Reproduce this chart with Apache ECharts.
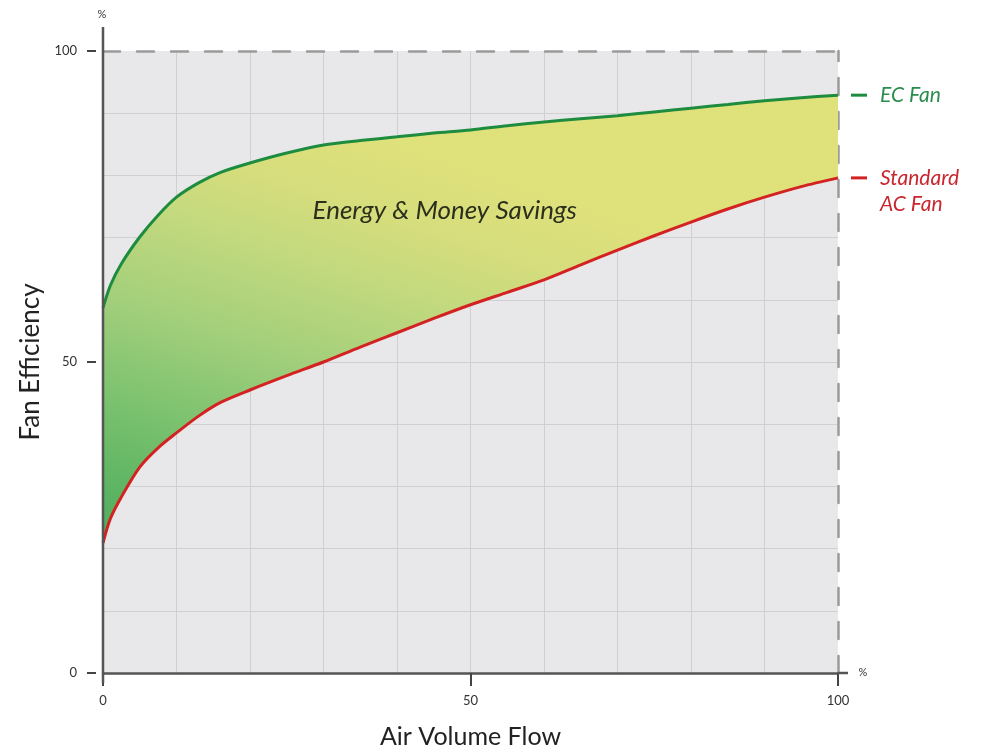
<!DOCTYPE html>
<html>
<head>
<meta charset="utf-8">
<script src="https://cdn.jsdelivr.net/npm/echarts@6/dist/echarts.min.js"></script>
<style>
  html, body { margin: 0; padding: 0; background: #fff; }
  #chart { width: 982px; height: 753px; }
</style>
</head>
<body>
<div id="chart"></div>
<script>
// air volume flow (%) sample points
const flow = [0, 1, 2.5, 5, 7.5, 10, 13, 16, 20, 25, 30, 35, 40, 45, 50, 55, 60, 65, 70, 75, 80, 85, 90, 95, 100];
// fan efficiency (%)
const ecFan = [58.7, 62.3, 65.8, 70.1, 73.6, 76.5, 78.8, 80.5, 82, 83.6, 84.9, 85.6, 86.2, 86.8, 87.3, 88, 88.6, 89.1, 89.6, 90.2, 90.8, 91.4, 92, 92.5, 92.9];
const acFan = [20.9, 24.8, 28.3, 33.1, 36.2, 38.6, 41.3, 43.5, 45.5, 47.8, 50, 52.4, 54.7, 57, 59.2, 61.2, 63.2, 65.6, 68, 70.3, 72.5, 74.6, 76.5, 78.2, 79.6];
const savingsLabel = 'Energy & Money Savings';
const savingsPos = [46.5, 74.3];

const FONT = 'Lato, "DejaVu Sans", sans-serif';
const GREEN = '#1e8c3e';
const RED = '#d42222';
const AXIS = '#555';

const chart = echarts.init(document.getElementById('chart'));

// rows are [efficiency, flow] so the stack runs on the efficiency value
const acRows = flow.map((x, i) => [acFan[i], x]);
const ecRows = flow.map((x, i) => [ecFan[i], x]);
const gapRows = flow.map((x, i) => [+(ecFan[i] - acFan[i]).toFixed(2), x]);
const enc = { x: 1, y: 0 };

const option = {
  animation: false,
  textStyle: { fontFamily: FONT },
  grid: {
    left: 103, right: 144, top: 51, bottom: 80,
    outerBoundsMode: 'none',
    show: true, backgroundColor: '#e8e8ea', borderWidth: 0
  },
  xAxis: [
    {
      type: 'value', min: 0, max: 100, interval: 50,
      name: 'Air Volume Flow', nameLocation: 'middle', nameGap: 51,
      nameTextStyle: { fontSize: 25, color: '#222', fontFamily: FONT },
      axisLine: { show: true, onZero: false, lineStyle: { color: AXIS, width: 2.5 } },
      axisTick: { show: true, length: 13, lineStyle: { color: '#444', width: 2 } },
      axisLabel: { margin: 21, fontSize: 13, color: '#333', fontFamily: FONT },
      splitLine: { show: true, showMinLine: false, showMaxLine: false, lineStyle: { color: '#d0d0d3', width: 1 } },
      minorTick: { show: false, splitNumber: 5 },
      minorSplitLine: { show: true, lineStyle: { color: '#d0d0d3', width: 1 } }
    },
    {
      type: 'value', min: 0, max: 100, position: 'top',
      axisLine: { show: true, onZero: false, lineStyle: { color: '#9a9a9a', width: 2.5, type: [17, 17] } },
      axisTick: { show: false }, axisLabel: { show: false }, splitLine: { show: false }
    }
  ],
  yAxis: [
    {
      type: 'value', min: 0, max: 100, interval: 50, offset: 7,
      name: 'Fan Efficiency', nameLocation: 'middle', nameGap: 48,
      nameTextStyle: { fontSize: 26, color: '#222', fontFamily: FONT },
      axisLine: { show: false, onZero: false },
      axisTick: { show: true, length: 9, lineStyle: { color: '#444', width: 2 } },
      axisLabel: { margin: 19, fontSize: 13, color: '#333', fontFamily: FONT },
      splitLine: { show: true, showMinLine: false, showMaxLine: false, lineStyle: { color: '#d0d0d3', width: 1 } },
      minorTick: { show: false, splitNumber: 5 },
      minorSplitLine: { show: true, lineStyle: { color: '#d0d0d3', width: 1 } }
    },
    {
      type: 'value', min: 0, max: 100, position: 'right',
      axisLine: { show: true, onZero: false, lineStyle: { color: '#9a9a9a', width: 2.5, type: [17, 17] } },
      axisTick: { show: false }, axisLabel: { show: false }, splitLine: { show: false }
    }
  ],
  series: [
    {
      name: 'Standard AC Fan', type: 'line', stack: 'band', smooth: 0.3,
      data: acRows, encode: enc, showSymbol: false, z: 4,
      lineStyle: { color: RED, width: 3 },
      endLabel: {
        show: true, distance: 13, offset: [0, 13],
        formatter: '{d| }{s| }{t|Standard}\n{w| }{t|AC Fan}',
        rich: {
          d: { width: 16, height: 3, backgroundColor: RED },
          s: { width: 13 },
          w: { width: 29 },
          t: { fontSize: 21, color: '#c9262f', fontStyle: 'italic', fontFamily: FONT, lineHeight: 26 }
        }
      }
    },
    {
      name: 'Savings', type: 'line', stack: 'band', smooth: 0.3,
      data: gapRows, encode: enc, showSymbol: false, z: 2,
      lineStyle: { width: 0, opacity: 0 },
      areaStyle: {
        opacity: 1,
        color: new echarts.graphic.LinearGradient(0.2, 0, 0, 1, [
          { offset: 0, color: '#dfe17b' },
          { offset: 0.15, color: '#d6dd7c' },
          { offset: 0.3, color: '#c2d97e' },
          { offset: 0.5, color: '#a3cf7b' },
          { offset: 0.7, color: '#7cc26f' },
          { offset: 0.85, color: '#62b765' },
          { offset: 1, color: '#4dac5c' }
        ])
      }
    },
    {
      name: 'EC Fan', type: 'line', smooth: 0.3,
      data: ecRows, encode: enc, showSymbol: false, z: 5,
      lineStyle: { color: GREEN, width: 3 },
      endLabel: {
        show: true, distance: 13,
        formatter: '{d| }{s| }{t|EC Fan}',
        rich: {
          d: { width: 16, height: 3, backgroundColor: GREEN },
          s: { width: 13 },
          t: { fontSize: 21, color: '#2c8c4c', fontStyle: 'italic', fontFamily: FONT }
        }
      },
      markPoint: {
        symbol: 'circle', symbolSize: 0,
        data: [{ coord: savingsPos }],
        label: {
          show: true, formatter: savingsLabel, position: 'inside',
          fontSize: 26, fontStyle: 'italic', color: '#2b2f1c', fontFamily: FONT
        }
      }
    }
  ]
};

chart.setOption(option);

// y axis line (runs a little below 0 and above 100), x axis overhang and % marks
const p0 = chart.convertToPixel({ gridIndex: 0 }, [0, 0]);
const pTop = chart.convertToPixel({ gridIndex: 0 }, [0, 100]);
const pRight = chart.convertToPixel({ gridIndex: 0 }, [100, 0]);
chart.setOption({
  graphic: [
    { type: 'line', z: 10, shape: { x1: p0[0], y1: p0[1] + 10, x2: p0[0], y2: pTop[1] - 24 },
      style: { stroke: AXIS, lineWidth: 2.5 } },
    { type: 'line', z: 10, shape: { x1: pRight[0], y1: p0[1], x2: pRight[0] + 10, y2: p0[1] },
      style: { stroke: AXIS, lineWidth: 2.5 } },
    { type: 'text', z: 10, x: p0[0] - 1, y: pTop[1] - 37,
      style: { text: '%', fill: '#333', font: '11px ' + FONT, align: 'center', verticalAlign: 'middle' } },
    { type: 'text', z: 10, x: pRight[0] + 25, y: p0[1] - 1,
      style: { text: '%', fill: '#333', font: '11px ' + FONT, align: 'center', verticalAlign: 'middle' } }
  ]
});
</script>
</body>
</html>
